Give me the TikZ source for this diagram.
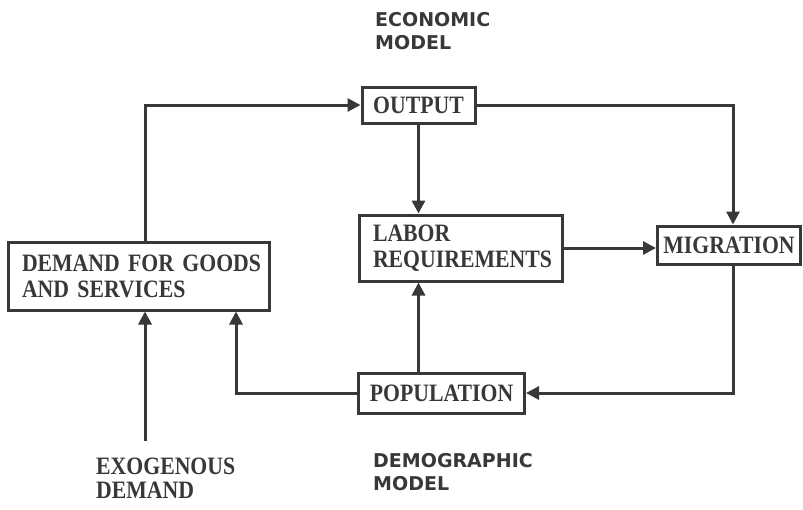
\documentclass[tikz,border=0pt]{standalone}
\usepackage{fontspec}
\setmainfont{Liberation Serif}
\newfontfamily\boxfont[FakeStretch=0.87]{Liberation Serif}
\newfontfamily\labsans{DejaVu Sans}
\usetikzlibrary{arrows.meta}
\definecolor{ink}{HTML}{383838}
\begin{document}
\begin{tikzpicture}[x=1pt,y=-1pt,
  box/.style={draw=ink,line width=3pt,text=ink,inner sep=0pt,font=\boxfont\fontsize{25}{26}\selectfont\bfseries},
  arr/.style={draw=ink,line width=3pt,-{Triangle[length=13pt,width=13pt]}},
  sanslab/.style={text=ink,inner sep=0pt,align=left,font=\labsans\fontsize{19}{23.5}\selectfont\bfseries},
  serlab/.style={text=ink,inner sep=0pt,align=left,font=\boxfont\fontsize{25}{24}\selectfont\bfseries}]
\path[use as bounding box,fill=white] (0,0) rectangle (803,509);

\node[box,minimum width=261pt,minimum height=68pt,text width=234pt,align=left] (dem) at (139,276) {DEMAND~FOR~GOODS\\AND~SERVICES};
\node[box,minimum width=113pt,minimum height=36pt] (out) at (418.5,105) {OUTPUT};
\node[box,minimum width=203pt,minimum height=66pt,text width=175pt,align=left] (lab) at (460.5,248) {LABOR\\REQUIREMENTS};
\node[box,minimum width=143pt,minimum height=38pt] (mig) at (729,245) {MIGRATION};
\node[box,minimum width=166pt,minimum height=40pt] (pop) at (441.5,393) {POPULATION};

\node[sanslab,anchor=north west] (eco) at (375,12) {ECONOMIC\\MODEL};
\node[sanslab,anchor=north west] (demo) at (373,453) {DEMOGRAPHIC\\MODEL};
\node[serlab,anchor=north west] (exo) at (96,458) {EXOGENOUS\\DEMAND};

\coordinate (ex) at (145,441);

\draw[arr] ([xshift=6pt]dem.north) |- (out.west);
\draw[arr] (out.east) -| ([xshift=4pt]mig.north);
\draw[arr] (out.south) -- (out.south |- lab.north);
\draw[arr] (lab.east) -- (lab.east -| mig.west);
\draw[arr] ([xshift=4pt]mig.south) |- (pop.east);
\draw[arr] (pop.north -| out.south) -- (lab.south -| out.south);
\draw[arr] (pop.west) -| ([xshift=97pt]dem.south);
\draw[arr] (ex) -- (ex |- dem.south);
\end{tikzpicture}
\end{document}
